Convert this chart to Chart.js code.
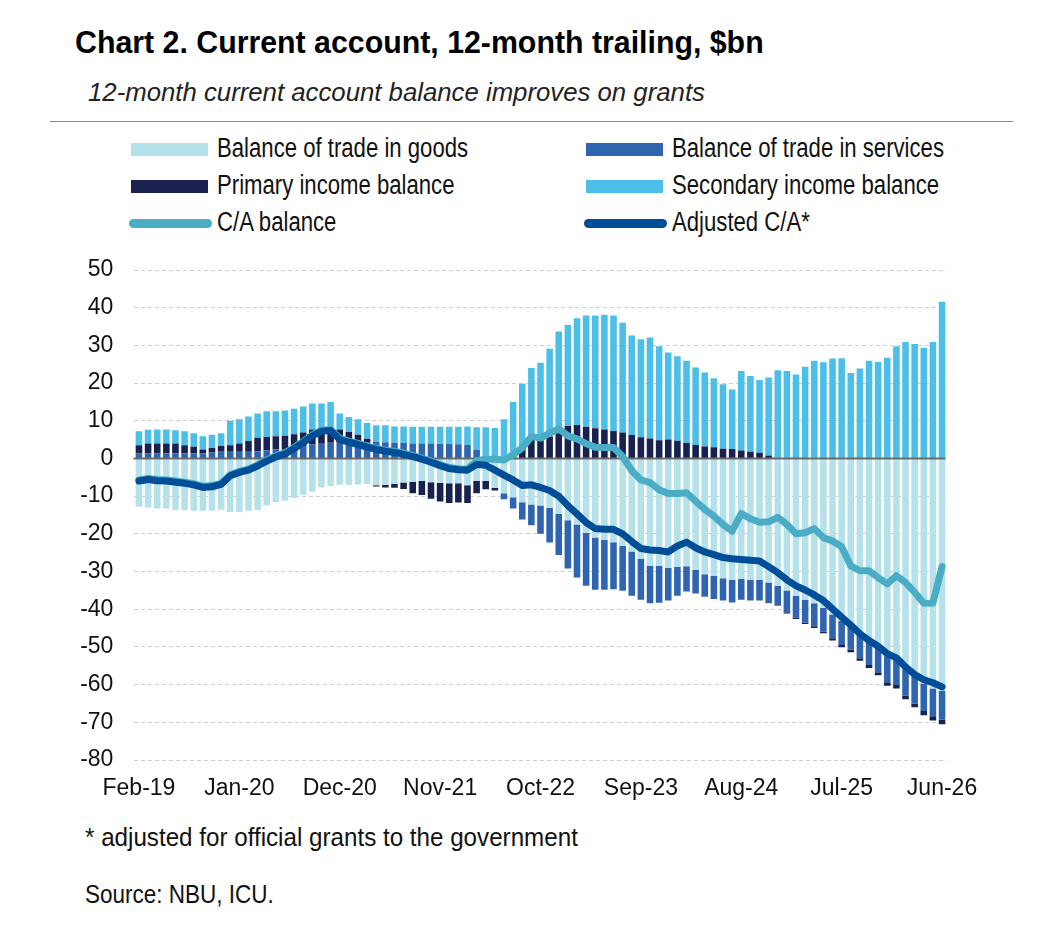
<!DOCTYPE html>
<html>
<head>
<meta charset="utf-8">
<script src="https://cdn.jsdelivr.net/npm/chart.js@4.4.1/dist/chart.umd.min.js"></script>
<style>
  html, body { margin: 0; padding: 0; background: #fff; }
  body { width: 1038px; height: 939px; position: relative; overflow: hidden; color: #111;
         font-family: "Liberation Sans", sans-serif; }
  .txt { position: absolute; line-height: 1; white-space: nowrap; transform-origin: 0 0; }
  #title { left: 75px; top: 26px; font-size: 32px; font-weight: bold; color: #000; transform: scaleX(0.947); }
  #subtitle { left: 88px; top: 80px; font-size: 25px; font-style: italic; color: #222; transform: scaleX(1.03); }
  #rule { position: absolute; left: 50px; top: 121px; width: 963px; height: 0; border-top: 1.5px solid #8a8a8a; }
  .lg { position: absolute; height: 30px; }
  .lg .sw { position: absolute; }
  .lg .lbl { position: absolute; line-height: 1; font-size: 27px; white-space: nowrap; color: #111;
             transform-origin: 0 0; transform: scaleX(0.82); }
  #chartBox { position: absolute; left: 40px; top: 250px; width: 960px; height: 560px; }
  #note { left: 85px; top: 824px; font-size: 26px; transform: scaleX(0.93); }
  #source { left: 85px; top: 882px; font-size: 25px; transform: scaleX(0.9); }
</style>
</head>
<body>
<div id="title" class="txt">Chart 2. Current account, 12-month trailing, $bn</div>
<div id="subtitle" class="txt">12-month current account balance improves on grants</div>
<div id="rule"></div>
<div id="legend"></div>
<div id="chartBox"><canvas id="caChart"></canvas></div>
<div id="note" class="txt">* adjusted for official grants to the government</div>
<div id="source" class="txt">Source: NBU, ICU.</div>

<script>
// --- データ (Feb-19 ... Jun-26, monthly, $bn) ---

const xTickLabels = ['Feb-19', 'Jan-20', 'Dec-20', 'Nov-21', 'Oct-22', 'Sep-23', 'Aug-24', 'Jul-25', 'Jun-26'];

const goodsBalance = [
    -12.8, -13.0, -13.3, -13.3, -13.7, -13.7, -13.9, -13.9, -13.9, -13.6,
    -14.2, -14.2, -13.9, -13.7, -12.5, -11.6, -11.2, -10.5, -9.6, -8.8,
    -7.7, -7.3, -7.0, -7.0, -6.9, -6.8, -7.1, -7.0, -6.7, -6.4,
    -6.2, -6.0, -6.3, -6.5, -6.6, -6.6, -7.1, -5.9, -6.0, -7.8,
    -9.2, -10.3, -11.6, -12.2, -12.5, -13.1, -14.7, -16.4, -17.5, -19.7,
    -21.0, -21.6, -22.2, -23.2, -24.7, -26.7, -28.5, -28.5, -29.0, -28.8,
    -28.6, -29.6, -30.7, -31.2, -31.8, -32.2, -31.9, -32.2, -32.2, -32.9,
    -33.8, -35.0, -36.4, -37.5, -38.4, -39.7, -41.4, -43.1, -44.2, -46.4,
    -48.1, -49.9, -52.5, -53.1, -55.8, -57.8, -59.7, -61.0, -61.7
];

const servicesBalance = [
    1.4, 1.4, 1.4, 1.4, 1.4, 1.4, 1.4, 1.4, 1.6, 1.75,
    1.75, 1.75, 1.75, 1.9, 2.2, 2.4, 2.5, 2.9, 3.3, 3.7,
    3.9, 4.2, 4.2, 4.2, 4.2, 4.2, 4.4, 4.3, 4.2, 4.1,
    4.0, 4.0, 4.0, 3.9, 3.9, 3.8, 3.6, 2.3, 0.4, 0,
    -1.6, -3.0, -4.6, -5.5, -7.5, -9.2, -10.9, -12.8, -14.1, -14.1,
    -13.8, -13.2, -12.5, -11.9, -11.7, -10.8, -9.9, -9.8, -8.7, -7.6,
    -6.7, -6.2, -6.0, -6.1, -5.9, -6.0, -5.6, -5.5, -5.5, -5.5,
    -5.3, -5.8, -5.8, -6.0, -6.1, -6.2, -6.3, -6.4, -6.5, -6.6,
    -6.7, -6.8, -6.9, -7.0, -7.1, -7.2, -7.3, -7.4, -7.6
];

const primaryIncome = [
    2.1, 2.6, 2.6, 2.6, 2.6, 2.1, 1.7, 1.0, 1.2, 1.55,
    1.75, 2.25, 2.85, 3.6, 3.5, 3.5, 3.5, 3.5, 3.6, 4.0,
    4.3, 3.6, 3.5, 2.8, 2.1, 1.0, -0.35, -0.7, -1.1, -1.7,
    -3.0, -3.7, -4.4, -4.9, -5.2, -5.1, -4.7, -3.3, -2.2, -0.7,
    0, 0.3, 2.7, 5.4, 4.7, 5.8, 6.7, 8.6, 8.9, 8.4,
    8.0, 7.7, 7.3, 6.9, 6.2, 5.6, 5.3, 4.8, 5.0, 4.7,
    4.1, 3.6, 3.2, 3.0, 2.6, 2.5, 2.1, 1.8, 1.5, 0.8,
    0, -0.35, -0.4, -0.45, -0.5, -0.5, -0.6, -0.6, -0.7, -0.7,
    -0.8, -0.8, -0.9, -0.9, -1.0, -1.0, -1.1, -1.1, -1.2
];

const secondaryIncome = [
    3.7, 3.6, 3.7, 3.7, 3.5, 3.7, 3.6, 3.5, 3.5, 3.4,
    6.5, 6.4, 6.5, 6.4, 6.8, 6.6, 6.7, 6.8, 6.9, 6.9,
    6.4, 7.2, 4.2, 4.0, 4.1, 4.2, 4.4, 4.5, 4.3, 4.4,
    4.4, 4.4, 4.4, 4.5, 4.5, 4.6, 4.9, 6.0, 7.9, 8.1,
    10.4, 14.7, 17.1, 18.6, 20.7, 23.3, 27.0, 26.8, 28.3, 29.5,
    29.9, 30.4, 30.6, 29.1, 26.4, 26.0, 26.8, 25.0, 23.1, 22.4,
    21.8, 20.5, 19.6, 18.3, 17.1, 15.8, 21.1, 20.1, 19.3, 20.7,
    23.4, 23.2, 22.3, 24.3, 25.9, 25.5, 26.5, 26.6, 22.7, 23.9,
    25.9, 25.6, 26.7, 29.8, 30.9, 30.4, 29.4, 30.9, 41.6
];

const caBalance = [
    -5.7, -5.3, -5.6, -5.7, -6.0, -6.3, -6.7, -7.4, -7.2, -6.6,
    -4.3, -3.4, -2.8, -1.7, -0.4, 0.7, 1.5, 2.9, 4.5, 6.3,
    7.5, 7.7, 5.3, 4.6, 4.0, 3.3, 2.7, 2.2, 1.9, 1.4,
    0.8, 0.1, -0.7, -1.6, -2.4, -2.7, -2.8, -0.6, -0.2, -0.2,
    -0.4, 1.0, 2.8, 5.8, 5.4, 6.7, 7.9, 6.0, 5.2, 3.9,
    3.0, 2.9, 2.9, 0.5, -3.2, -5.7, -6.4, -8.3, -9.3, -9.3,
    -9.1, -11.3, -13.5, -15.3, -17.5, -19.3, -14.6, -16.0, -16.9, -16.8,
    -15.6, -17.5, -20.0, -19.7, -18.6, -21.0, -21.9, -23.4, -28.5, -29.8,
    -29.8, -31.6, -33.3, -31.1, -32.9, -35.5, -38.4, -38.4, -28.7
];

const adjustedCA = [
    -6.0, -5.6, -5.9, -6.0, -6.3, -6.6, -7.0, -7.7, -7.5, -6.9,
    -4.6, -3.7, -3.1, -2.0, -0.7, 0.4, 1.2, 2.6, 4.2, 6.0,
    7.2, 7.4, 5.0, 4.3, 3.7, 3.0, 2.4, 1.9, 1.6, 1.1,
    0.5, -0.2, -1.0, -1.9, -2.7, -3.0, -3.1, -1.6, -1.8, -3.1,
    -4.4, -5.7, -7.2, -7.0, -7.7, -8.5, -10.0, -12.5, -14.7, -17.0,
    -18.6, -18.8, -18.8, -20.0, -22.0, -23.9, -24.3, -24.4, -24.8, -23.2,
    -22.2, -23.7, -24.8, -25.5, -26.3, -26.6, -26.8, -27.0, -27.2, -28.7,
    -30.3, -32.2, -33.8, -34.9, -36.2, -37.7, -39.9, -42.1, -44.2, -46.5,
    -48.3, -49.8, -51.8, -52.9, -55.3, -57.3, -58.7, -59.5, -60.6
];

// 月ラベル Feb-19 .. Jun-26
const MONTHS = ['Jan', 'Feb', 'Mar', 'Apr', 'May', 'Jun', 'Jul', 'Aug', 'Sep', 'Oct', 'Nov', 'Dec'];
const categories = [];
for (let k = 0; k < goodsBalance.length; k++) {
    const m = (1 + k) % 12;
    const y = 19 + Math.floor((1 + k) / 12);
    categories.push(`${MONTHS[m]}-${y}`);
}

// --- 凡例 (HTML) ---

const legendItems = [
    { label: 'Balance of trade in goods', color: '#b5e1ea', kind: 'bar', x: 131, row: 0 },
    { label: 'Balance of trade in services', color: '#2f65b0', kind: 'bar', x: 586, row: 0 },
    { label: 'Primary income balance', color: '#19214f', kind: 'bar', x: 131, row: 1 },
    { label: 'Secondary income balance', color: '#4cbfe9', kind: 'bar', x: 586, row: 1 },
    { label: 'C/A balance', color: '#4aadc5', kind: 'line', x: 129, row: 2 },
    { label: 'Adjusted C/A*', color: '#004e98', kind: 'line', x: 584, row: 2 }
];

function buildLegend() {
    const host = document.getElementById('legend');
    legendItems.forEach(item => {
        const top = 135 + item.row * 37;
        const box = document.createElement('div');
        box.className = 'lg';
        box.style.left = item.x + 'px';
        box.style.top = top + 'px';
        const sw = document.createElement('div');
        sw.className = 'sw';
        sw.style.background = item.color;
        if (item.kind === 'bar') {
            sw.style.left = '0px'; sw.style.top = '8px';
            sw.style.width = '77px'; sw.style.height = '13px';
        } else {
            sw.style.left = '0px'; sw.style.top = '10px';
            sw.style.width = '83px'; sw.style.height = '9px';
            sw.style.borderRadius = '5px';
        }
        const lbl = document.createElement('div');
        lbl.className = 'lbl';
        lbl.style.left = (item.kind === 'bar' ? 86 : 88) + 'px';
        lbl.style.top = '0px';
        lbl.textContent = item.label;
        box.appendChild(sw);
        box.appendChild(lbl);
        host.appendChild(box);
    });
}

// --- チャート ---

const zeroLinePlugin = {
    id: 'zeroLine',
    beforeDatasetDraw(chart, args) {
        if (args.index !== 4) return;
        const { ctx, chartArea, scales: { y } } = chart;
        const yPos = y.getPixelForValue(0);
        ctx.save();
        ctx.beginPath();
        ctx.lineWidth = 2;
        ctx.strokeStyle = '#6b6b6b';
        ctx.moveTo(chartArea.left - 1, yPos);
        ctx.lineTo(chartArea.right - 1, yPos);
        ctx.stroke();
        ctx.restore();
    }
};

function renderChart() {
    Chart.defaults.font.family = '"Liberation Sans", sans-serif';
    Chart.defaults.color = '#111';

    const barCommon = {
        type: 'bar',
        order: 2,
        barPercentage: 0.72,
        categoryPercentage: 1.0,
        borderWidth: 0
    };
    const lineCommon = {
        type: 'line',
        borderWidth: 7,
        pointRadius: 0,
        tension: 0,
        fill: false,
        borderJoinStyle: 'round',
        borderCapStyle: 'round'
    };

    new Chart(document.getElementById('caChart').getContext('2d'), {
        data: {
            labels: categories,
            datasets: [
                { ...barCommon, label: 'Balance of trade in goods', data: goodsBalance, backgroundColor: '#b5e1ea' },
                { ...barCommon, label: 'Balance of trade in services', data: servicesBalance, backgroundColor: '#2f65b0' },
                { ...barCommon, label: 'Primary income balance', data: primaryIncome, backgroundColor: '#19214f' },
                { ...barCommon, label: 'Secondary income balance', data: secondaryIncome, backgroundColor: '#4cbfe9' },
                { ...lineCommon, label: 'C/A balance', data: caBalance, borderColor: '#4aadc5', order: 1, stack: 'ca' },
                { ...lineCommon, label: 'Adjusted C/A*', data: adjustedCA, borderColor: '#004e98', order: 0, stack: 'adj' }
            ]
        },
        options: {
            responsive: true,
            maintainAspectRatio: false,
            animation: false,
            layout: { padding: { top: 20, right: 53.4, bottom: 0, left: 0 } },
            plugins: {
                legend: { display: false },
                tooltip: { enabled: false }
            },
            scales: {
                x: {
                    stacked: true,
                    grid: { display: false, drawTicks: false },
                    border: { display: false },
                    ticks: {
                        autoSkip: false,
                        maxRotation: 0,
                        padding: 15,
                        font: { size: 23 },
                        color: '#111',
                        callback: function (value, index) {
                            const lab = this.getLabelForValue(value);
                            return xTickLabels.includes(lab) ? lab : '';
                        }
                    },
                    afterFit: (scale) => { scale.height = 50; }
                },
                y: {
                    stacked: true,
                    min: -80,
                    max: 50,
                    grid: { color: '#cfcfcf', lineWidth: 1, drawTicks: false },
                    border: { display: false, dash: [4, 3] },
                    ticks: { stepSize: 10, padding: 21, font: { size: 23 }, color: '#111' },
                    afterFit: (scale) => {
                        scale.width = 94.4;
                        scale.paddingTop = 0;
                        scale.paddingBottom = 0;
                    }
                }
            }
        },
        plugins: [zeroLinePlugin]
    });
}

document.addEventListener('DOMContentLoaded', () => {
    buildLegend();
    renderChart();
});
</script>
</body>
</html>
